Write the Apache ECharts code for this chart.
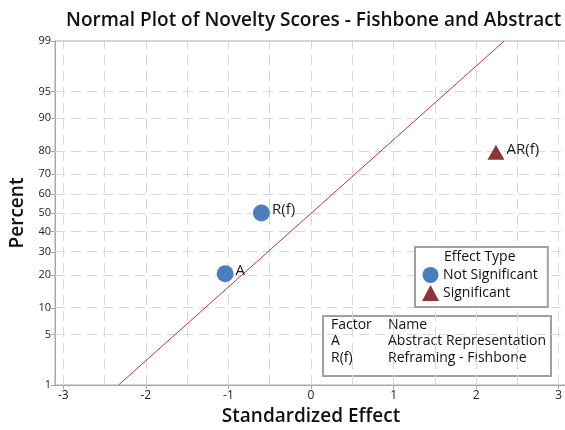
<!DOCTYPE html>
<html lang="en">
<head>
<meta charset="UTF-8">
<title>Normal Plot of Novelty Scores</title>
<script src="https://cdn.jsdelivr.net/npm/echarts@6/dist/echarts.min.js"></script>
<style>
    html, body { margin: 0; padding: 0; background: #fff; }
    #chart { width: 565px; height: 430px; }
</style>
</head>
<body>
<div id="chart"></div>
<script>
// effects
var factorNames = ['A', 'R(f)', 'AR(f)'];
var effectX = [-1.04, -0.60, 2.24];
var effectPct = [20.6, 50, 79.4];
var significant = [false, false, true];

// fitted reference line (two end points)
var lineX = [-2.33, 2.34];
var linePct = [1, 99];

// axis ticks
var xTicks = [-3, -2, -1, 0, 1, 2, 3];
var xGrid = [-3, -2.5, -2, -1.5, -1, -0.5, 0, 0.5, 1, 1.5, 2, 2.5, 3];
var yTicks = [1, 5, 10, 20, 30, 40, 50, 60, 70, 80, 90, 95, 99];

var FONT = 'Open Sans';
var BOX_FONT = '14px "Open Sans"';

// inverse normal cdf (Acklam) -> probability scale
function probit(p) {
    var a = [-3.969683028665376e+01, 2.209460984245205e+02, -2.759285104469687e+02, 1.383577518672690e+02, -3.066479806614716e+01, 2.506628277459239e+00];
    var b = [-5.447609879822406e+01, 1.615858368580409e+02, -1.556989798598866e+02, 6.680131188771972e+01, -1.328068155288572e+01];
    var c = [-7.784894002430293e-03, -3.223964580411365e-01, -2.400758277161838e+00, -2.549732539343734e+00, 4.374664141464968e+00, 2.938163982698783e+00];
    var d = [7.784695709041462e-03, 3.224671290700398e-01, 2.445134137142996e+00, 3.754408661907416e+00];
    var pl = 0.02425, q, r;
    if (p < pl) {
        q = Math.sqrt(-2 * Math.log(p));
        return (((((c[0]*q+c[1])*q+c[2])*q+c[3])*q+c[4])*q+c[5]) / ((((d[0]*q+d[1])*q+d[2])*q+d[3])*q+1);
    }
    if (p > 1 - pl) {
        q = Math.sqrt(-2 * Math.log(1 - p));
        return -(((((c[0]*q+c[1])*q+c[2])*q+c[3])*q+c[4])*q+c[5]) / ((((d[0]*q+d[1])*q+d[2])*q+d[3])*q+1);
    }
    q = p - 0.5;
    r = q * q;
    return (((((a[0]*r+a[1])*r+a[2])*r+a[3])*r+a[4])*r+a[5])*q / (((((b[0]*r+b[1])*r+b[2])*r+b[3])*r+b[4])*r+1);
}

var yTickZ = yTicks.map(function (p) { return probit(p / 100); });

function yLabel(v) {
    var best = 0;
    for (var i = 1; i < yTickZ.length; i++) {
        if (Math.abs(yTickZ[i] - v) < Math.abs(yTickZ[best] - v)) best = i;
    }
    return String(yTicks[best]);
}

var notSig = [], sig = [];
for (var i = 0; i < factorNames.length; i++) {
    var pt = { value: [effectX[i], probit(effectPct[i] / 100)], name: factorNames[i] };
    (significant[i] ? sig : notSig).push(pt);
}

var refLine = lineX.map(function (x, i) { return [x, probit(linePct[i] / 100)]; });

var gridLineStyle = { color: '#d8d8d8', width: 1, type: [10, 6] };
var gridMarks = xGrid.map(function (v) { return { xAxis: v }; })
    .concat(yTickZ.map(function (z) { return { yAxis: z }; }));

var chart = echarts.init(document.getElementById('chart'));

var ptLabel = {
    show: true,
    position: 'right',
    distance: 2,
    offset: [0, -3],
    formatter: '{b}',
    color: '#1a1a1a',
    fontFamily: FONT,
    fontSize: 15
};

chart.setOption({
    animation: false,
    title: {
        text: 'Normal Plot of Novelty Scores - Fishbone and Abstract',
        left: 61,
        top: 6,
        textStyle: { fontFamily: FONT, fontSize: 19, fontWeight: 600, color: '#111' }
    },
    grid: {
        left: 55, top: 41, right: -2, bottom: 45,
        outerBoundsMode: 'none',
        containLabel: false,
        show: true, borderColor: '#a8a8a8', borderWidth: 1
    },
    legend: {
        orient: 'vertical',
        left: 415, top: 247,
        padding: [20, 10, 6, 7],
        itemGap: 2,
        itemWidth: 17, itemHeight: 16,
        backgroundColor: '#fff',
        borderColor: '#a0a0a0', borderWidth: 2,
        textStyle: { fontFamily: FONT, fontSize: 14, color: '#111', padding: [0, 0, 0, -1] },
        data: [
            { name: 'Not Significant', icon: 'circle' },
            { name: 'Significant', icon: 'triangle' }
        ]
    },
    xAxis: {
        type: 'value',
        min: -3.1, max: 3.1,
        name: 'Standardized Effect',
        nameLocation: 'middle',
        nameGap: 22,
        nameTextStyle: { fontFamily: FONT, fontSize: 19, fontWeight: 600, color: '#111' },
        axisLine: { show: true, onZero: false, lineStyle: { color: '#a8a8a8' } },
        axisTick: { show: true, customValues: xTicks, length: 4, lineStyle: { color: '#a8a8a8' } },
        axisLabel: { customValues: xTicks, margin: 5, fontFamily: FONT, fontSize: 12, color: '#222' },
        splitLine: { show: false }
    },
    yAxis: {
        type: 'value',
        min: probit(0.01), max: probit(0.99),
        name: 'Percent',
        nameLocation: 'middle',
        nameRotate: 90,
        nameGap: 25,
        nameTextStyle: { fontFamily: FONT, fontSize: 19, fontWeight: 600, color: '#111' },
        axisLine: { show: true, onZero: false, lineStyle: { color: '#a8a8a8' } },
        axisTick: { show: true, customValues: yTickZ, length: 4, lineStyle: { color: '#a8a8a8' } },
        axisLabel: {
            customValues: yTickZ, margin: 4,
            fontFamily: FONT, fontSize: 11, color: '#222',
            formatter: yLabel
        },
        splitLine: { show: false }
    },
    series: [
        {
            name: 'grid',
            type: 'line',
            data: [],
            z: 1,
            silent: true,
            markLine: {
                z: 1,
                silent: true,
                symbol: 'none',
                label: { show: false },
                lineStyle: gridLineStyle,
                data: gridMarks
            }
        },
        {
            name: 'Reference',
            type: 'line',
            data: refLine,
            z: 2,
            symbol: 'none',
            silent: true,
            lineStyle: { color: '#b03a3a', width: 1 }
        },
        {
            name: 'Not Significant',
            type: 'scatter',
            symbol: 'circle',
            symbolSize: 17,
            z: 3,
            itemStyle: { color: '#4a7ebd', opacity: 1 },
            label: ptLabel,
            data: notSig
        },
        {
            name: 'Significant',
            type: 'scatter',
            symbol: 'triangle',
            symbolSize: [17, 15],
            z: 3,
            itemStyle: { color: '#8e3535', opacity: 1 },
            label: ptLabel,
            data: sig
        }
    ],
    graphic: [
        {
            type: 'text',
            left: 444, top: 250,
            z: 100,
            style: { text: 'Effect Type', font: BOX_FONT, fill: '#111' }
        },
        {
            type: 'group',
            left: 322, top: 315,
            z: 100,
            children: [
                { type: 'rect', shape: { x: 0, y: 0, width: 228, height: 60 },
                  style: { fill: '#fff', stroke: '#a0a0a0', lineWidth: 2 } },
                { type: 'text', x: 8, y: 2, style: { text: 'Factor', font: BOX_FONT, fill: '#111' } },
                { type: 'text', x: 65, y: 2, style: { text: 'Name', font: BOX_FONT, fill: '#111' } },
                { type: 'text', x: 8, y: 18, style: { text: 'A', font: BOX_FONT, fill: '#111' } },
                { type: 'text', x: 65, y: 18, style: { text: 'Abstract Representation', font: BOX_FONT, fill: '#111' } },
                { type: 'text', x: 8, y: 35, style: { text: 'R(f)', font: BOX_FONT, fill: '#111' } },
                { type: 'text', x: 65, y: 35, style: { text: 'Reframing - Fishbone', font: BOX_FONT, fill: '#111' } }
            ]
        }
    ]
});
</script>
</body>
</html>
